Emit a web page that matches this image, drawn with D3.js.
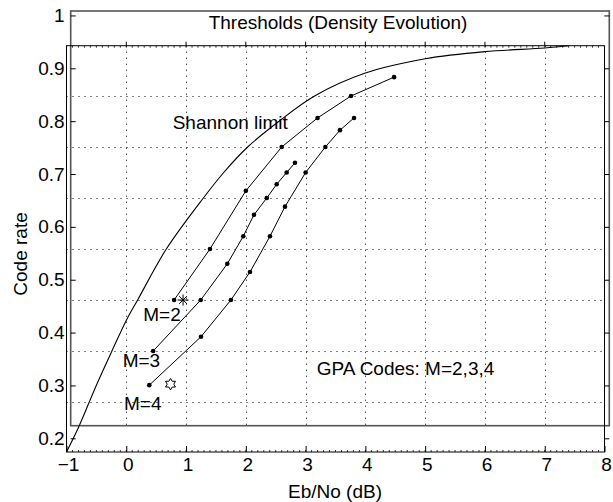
<!DOCTYPE html>
<html>
<head>
<meta charset="utf-8">
<script src="https://cdn.jsdelivr.net/npm/d3@7"></script>
<style>
  html, body { margin: 0; padding: 0; background: #fff; }
  svg { display: block; }
  text { font-family: "Liberation Sans", Arial, Helvetica, sans-serif; fill: #000; }
</style>
</head>
<body>
<svg id="chart" width="613" height="502"></svg>
<script>
// ---------------- data ----------------
const xTickValues = [-1, 0, 1, 2, 3, 4, 5, 6, 7, 8];
const yTickValues = [0.2, 0.3, 0.4, 0.5, 0.6, 0.7, 0.8, 0.9, 1];
const xGridValues = [0, 1, 2, 3, 4, 5, 6, 7];
const yGridValues = [0.3, 0.4, 0.5, 0.6, 0.7, 0.8, 0.9];

// Shannon limit (Eb/No dB, code rate)
const shannonEbNo = [-1.0, -0.8, -0.5, -0.24, 0.0, 0.19, 0.67, 1.29, 1.63, 2.03, 2.55, 3.15, 4.0, 5.0, 6.0, 7.0, 7.4];
const shannonRate = [0.202, 0.25, 0.333, 0.40, 0.46, 0.50, 0.60, 0.70, 0.75, 0.80, 0.85, 0.90, 0.945, 0.973, 0.987, 0.994, 0.9985];

// GPA codes thresholds (density evolution)
const m2EbNo = [0.80, 1.40, 2.00, 2.60, 3.20, 3.76, 4.48];
const m2Rate = [0.50, 0.60, 0.714, 0.80, 0.857, 0.90, 0.937];
const m3EbNo = [0.45, 1.245, 1.69, 1.957, 2.136, 2.35, 2.516, 2.683, 2.822];
const m3Rate = [0.40, 0.50, 0.571, 0.625, 0.667, 0.70, 0.727, 0.75, 0.769];
const m4EbNo = [0.385, 1.25, 1.75, 2.07, 2.404, 2.655, 3.0, 3.33, 3.575, 3.81];
const m4Rate = [0.333, 0.428, 0.50, 0.555, 0.625, 0.683, 0.75, 0.80, 0.833, 0.857];

const specialNames = ["asterisk", "hexagram"];
const specialEbNo = [0.95, 0.74];
const specialRate = [0.50, 0.335];

// ---------------- layout ----------------
const svg = d3.select("#chart");
const FONT = 19;

const x = d3.scaleLinear().domain([-1, 8]).range([66.5, 604.5]);
const yAxisScale = d3.scaleLinear().domain([0.2, 0.9]).range([438.3, 68.3]);
const y = d3.scaleLinear().domain([0.3, 0.9]).range([402, 96]);

const K = { x0: 66.5, x1: 604.5, y0: 45.7, y1: 452 };
const G = { x0: 70.7, x1: 609.3, y0: 11, y1: 425.7 };

// grid (dotted)
const grid = svg.append("g");
grid.selectAll("line.v").data(xGridValues).join("line")
  .attr("x1", d => Math.round(x(d)) + 0.5).attr("x2", d => Math.round(x(d)) + 0.5)
  .attr("y1", K.y0).attr("y2", G.y1)
  .attr("stroke", "#000").attr("stroke-width", 1).attr("stroke-dasharray", "1,5");
grid.selectAll("line.h").data(yGridValues).join("line")
  .attr("x1", K.x0).attr("x2", K.x1)
  .attr("y1", d => Math.round(y(d)) + 0.5).attr("y2", d => Math.round(y(d)) + 0.5)
  .attr("stroke", "#000").attr("stroke-width", 1).attr("stroke-dasharray", "1,5");

// frames
svg.append("rect").attr("x", G.x0).attr("y", G.y0).attr("width", G.x1 - G.x0).attr("height", G.y1 - G.y0)
  .attr("fill", "none").attr("stroke", "#555").attr("stroke-width", 1.6);
svg.append("rect").attr("x", K.x0).attr("y", K.y0).attr("width", K.x1 - K.x0).attr("height", K.y1 - K.y0)
  .attr("fill", "none").attr("stroke", "#000").attr("stroke-width", 1);

// minor ruler ticks along inner frame top & bottom
const minor = d3.range(-10, 81).map(d => d / 10);
svg.append("g").selectAll("line").data(minor).join("line")
  .attr("x1", d => x(d)).attr("x2", d => x(d)).attr("y1", K.y0).attr("y2", K.y0 + 2)
  .attr("stroke", "#000").attr("stroke-width", 0.8);
svg.append("g").selectAll("line").data(minor).join("line")
  .attr("x1", d => x(d)).attr("x2", d => x(d)).attr("y1", K.y1).attr("y2", K.y1 - 2)
  .attr("stroke", "#000").attr("stroke-width", 0.8);
// top major ticks
svg.append("g").selectAll("line").data(xGridValues).join("line")
  .attr("x1", d => x(d)).attr("x2", d => x(d)).attr("y1", K.y0).attr("y2", K.y0 - 4)
  .attr("stroke", "#000").attr("stroke-width", 1);

// axes
const xAxis = d3.axisBottom(x).tickValues(xTickValues)
  .tickFormat(d => d < 0 ? "\u2212" + Math.abs(d) : String(d))
  .tickSizeInner(-6).tickSizeOuter(0).tickPadding(5.5);
const gx = svg.append("g").attr("transform", `translate(0,${K.y1})`).call(xAxis);
gx.select(".domain").remove();
gx.selectAll("text").attr("font-size", FONT).attr("font-family", null).attr("dx", 1.5);
gx.selectAll("line").attr("stroke", "#000");

const yAxisL = d3.axisLeft(yAxisScale).tickValues(yTickValues)
  .tickFormat(d => d === 1 ? "1" : d3.format(".1f")(d))
  .tickSizeInner(-5).tickSizeOuter(0).tickPadding(6);
const gy = svg.append("g").attr("transform", `translate(${G.x0},0)`).call(yAxisL);
gy.select(".domain").remove();
gy.selectAll("text").attr("font-size", FONT).attr("font-family", null);
gy.selectAll("line").attr("stroke", "#000");

const yAxisR = d3.axisRight(yAxisScale).tickValues(yTickValues).tickFormat("")
  .tickSizeInner(-5).tickSizeOuter(0);
const gyr = svg.append("g").attr("transform", `translate(${G.x1},0)`).call(yAxisR);
gyr.select(".domain").remove();
gyr.selectAll("line").attr("stroke", "#000");

// Shannon limit curve
const shannon = shannonEbNo.map((e, i) => [e, shannonRate[i]]);
svg.append("path").datum(shannon)
  .attr("d", d3.line().x(d => x(d[0])).y(d => y(d[1])).curve(d3.curveCatmullRom.alpha(0.5)))
  .attr("fill", "none").attr("stroke", "#000").attr("stroke-width", 1.1);

// GPA series
const series = [
  { name: "M=2", e: m2EbNo, r: m2Rate },
  { name: "M=3", e: m3EbNo, r: m3Rate },
  { name: "M=4", e: m4EbNo, r: m4Rate }
];
const line = d3.line().x(d => x(d[0])).y(d => y(d[1]));
series.forEach(s => {
  const pts = s.e.map((e, i) => [e, s.r[i]]);
  svg.append("path").datum(pts).attr("d", line)
    .attr("fill", "none").attr("stroke", "#000").attr("stroke-width", 1);
  svg.append("g").selectAll("circle").data(pts).join("circle")
    .attr("cx", d => x(d[0])).attr("cy", d => y(d[1])).attr("r", 2.3).attr("fill", "#000");
});

// special markers
const asteriskSym = {
  draw(ctx, size) {
    const r = Math.sqrt(size) / 2;
    const a = r * Math.SQRT1_2;
    ctx.moveTo(-r, 0); ctx.lineTo(r, 0);
    ctx.moveTo(0, -r); ctx.lineTo(0, r);
    ctx.moveTo(-a, -a); ctx.lineTo(a, a);
    ctx.moveTo(-a, a); ctx.lineTo(a, -a);
  }
};
const hexagramSym = {
  draw(ctx, size) {
    const R = Math.sqrt(size) / 2;
    const r = R / Math.sqrt(3);
    for (let i = 0; i < 12; i++) {
      const ang = -Math.PI / 2 + i * Math.PI / 6;
      const rad = i % 2 === 0 ? R : r;
      const px = rad * Math.cos(ang), py = rad * Math.sin(ang);
      if (i === 0) ctx.moveTo(px, py); else ctx.lineTo(px, py);
    }
    ctx.closePath();
  }
};
specialNames.forEach((n, i) => {
  const type = n === "asterisk" ? asteriskSym : hexagramSym;
  const sz = n === "asterisk" ? 121 : 132;
  svg.append("path")
    .attr("transform", `translate(${x(specialEbNo[i])},${y(specialRate[i])})`)
    .attr("d", d3.symbol().type(type).size(sz)())
    .attr("fill", n === "asterisk" ? "none" : "#fff")
    .attr("stroke", "#000").attr("stroke-width", 1);
});

// texts
const txt = (s, tx, ty, anchor) => svg.append("text").attr("x", tx).attr("y", ty)
  .attr("font-size", FONT).attr("text-anchor", anchor || "start").text(s);
txt("Thresholds (Density Evolution)", 338, 28.8, "middle");
txt("Shannon limit", 172.7, 128.5);
txt("M=2", 143.3, 321.1);
txt("M=3", 122.7, 366.8);
txt("M=4", 124, 410.1);
txt("GPA Codes: M=2,3,4", 316.7, 375.1);
txt("Eb/No (dB)", 335, 497.5, "middle");
svg.append("text").attr("transform", "translate(26.5,254) rotate(-90)")
  .attr("font-size", FONT).attr("text-anchor", "middle").text("Code rate");
</script>
</body>
</html>
